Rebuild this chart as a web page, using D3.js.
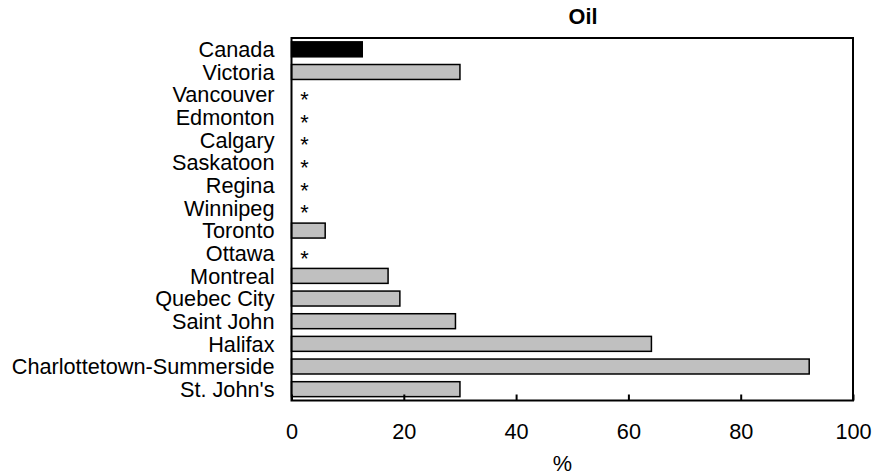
<!DOCTYPE html>
<html><head><meta charset="utf-8">
<script src="https://cdn.jsdelivr.net/npm/d3@7"></script>
<style>body{margin:0;background:#fff}text{font-family:"Liberation Sans",Arial,sans-serif}</style>
</head><body><svg id="c" width="876" height="475"></svg>
<script>
const categories = ["Canada","Victoria","Vancouver","Edmonton","Calgary","Saskatoon","Regina","Winnipeg","Toronto","Ottawa","Montreal","Quebec City","Saint John","Halifax","Charlottetown-Summerside","St. John's"];
const values = [12.6, 30.0, null, null, null, null, null, null, 6.0, null, 17.2, 19.3, 29.2, 64.1, 92.2, 30.0];
const xTicks = [0, 20, 40, 60, 80, 100];
const title = "Oil";
const xLabel = "%";
const suppressedMark = "*";

const svg = d3.select("#c");
const L = 291.5, R = 853, T = 38, B = 400.5;
const x = d3.scaleLinear().domain([0, 100]).range([L, R]);
const y = d3.scaleBand().domain(categories).range([T, B]).paddingInner(0.34).paddingOuter(0.17);
const fs = 21.7;

// bars
svg.append("g").selectAll("rect").data(categories.map((c,i)=>({c,v:values[i],i})).filter(d=>d.v!=null))
  .enter().append("rect")
  .attr("x", x(0)).attr("y", d=>y(d.c))
  .attr("width", d=>x(d.v)-x(0)).attr("height", y.bandwidth())
  .attr("fill", d=>d.i===0?"#000":"#c0c0c0")
  .attr("stroke", "#000").attr("stroke-width", 1.5);

// asterisks
svg.append("g").selectAll("text").data(categories.filter((c,i)=>values[i]==null))
  .enter().append("text")
  .attr("x", x(2.3)).attr("y", c=>y(c)+y.bandwidth()/2+0.57*fs)
  .attr("text-anchor","middle").attr("font-size", fs).text(suppressedMark);

// frame
svg.append("rect").attr("x",L).attr("y",T).attr("width",R-L).attr("height",B-T)
  .attr("fill","none").attr("stroke","#000").attr("stroke-width",2);

// x axis
const xa = svg.append("g").attr("transform",`translate(0,${B})`)
  .call(d3.axisBottom(x).tickValues(xTicks).tickSizeInner(-6).tickSizeOuter(0).tickPadding(0));
xa.select(".domain").remove();
xa.selectAll(".tick line").attr("stroke","#000").attr("stroke-width",2);
xa.selectAll(".tick text").attr("font-size",fs).attr("fill","#000").attr("y",0).attr("dy",null)
  .attr("transform","translate(0,38)").style("font-family",'"Liberation Sans",Arial,sans-serif');

// y axis labels
const ya = svg.append("g").attr("transform",`translate(${L},0)`)
  .call(d3.axisLeft(y).tickSize(0).tickPadding(17));
ya.select(".domain").remove();
ya.selectAll(".tick text").attr("font-size",fs).attr("fill","#000").attr("dy","0.36em")
  .style("font-family",'"Liberation Sans",Arial,sans-serif');

// title & axis label
svg.append("text").attr("x",583).attr("y",24).attr("text-anchor","middle")
  .attr("font-size",fs).attr("font-weight","bold").text(title);
svg.append("text").attr("x",562.5).attr("y",471).attr("text-anchor","middle")
  .attr("font-size",fs).text(xLabel);
</script></body></html>
